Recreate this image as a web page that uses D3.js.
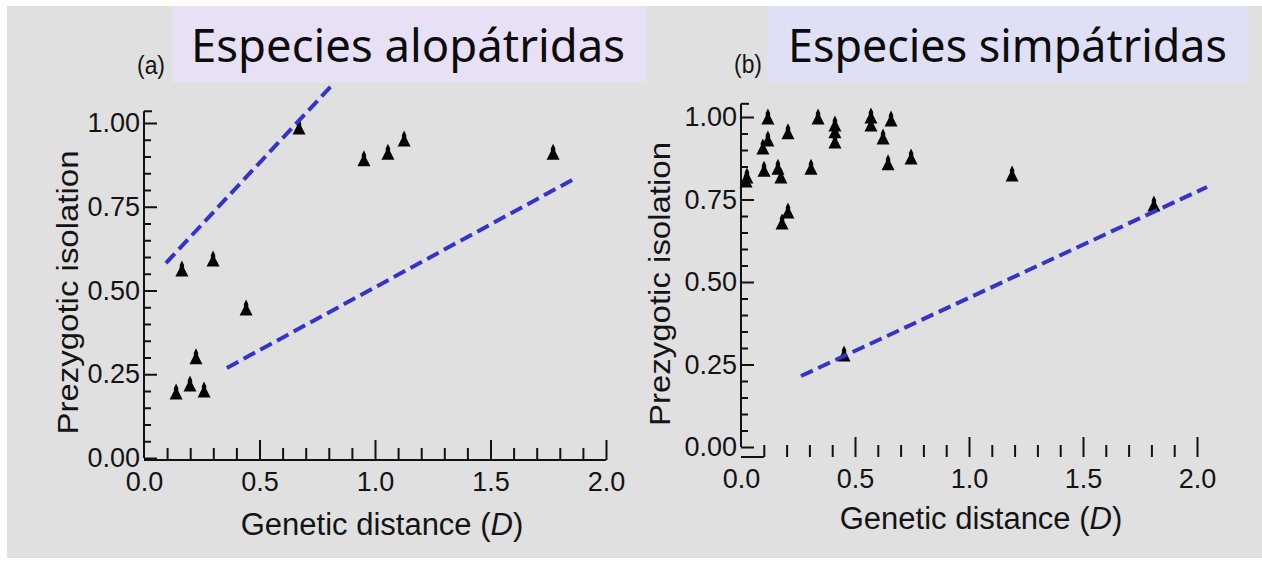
<!DOCTYPE html>
<html>
<head>
<meta charset="utf-8">
<script src="https://cdn.jsdelivr.net/npm/d3@7/dist/d3.min.js"></script>
<style>
  html, body { margin: 0; padding: 0; background: #ffffff; }
  svg { display: block; }
</style>
</head>
<body>
<svg id="chart" width="1262" height="561"></svg>
<script>
// ---------------- data ----------------
const panelTitles = ["Especies alopátridas", "Especies simpátridas"];
const panelLetters = ["(a)", "(b)"];
const xTickValues = [0, 0.5, 1.0, 1.5, 2.0];
const xTickLabels = ["0.0", "0.5", "1.0", "1.5", "2.0"];
const yTickValues = [0, 0.25, 0.5, 0.75, 1.0];
const yTickLabels = ["0.00", "0.25", "0.50", "0.75", "1.00"];
const xLabel = "Genetic distance (";
const xLabelItalic = "D";
const yLabel = "Prezygotic isolation";

// (a) allopatric species
const alloD   = [0.139, 0.199, 0.260, 0.225, 0.164, 0.299, 0.442, 0.671, 0.952, 1.056, 1.126, 1.771];
const alloIso = [0.194, 0.218, 0.200, 0.299, 0.561, 0.591, 0.445, 0.985, 0.890, 0.910, 0.949, 0.910];

// (b) sympatric species
const simD   = [0.022, 0.026, 0.096, 0.101, 0.118, 0.118, 0.162, 0.175, 0.180, 0.206, 0.206, 0.307,
                0.338, 0.412, 0.412, 0.412, 0.452, 0.570, 0.570, 0.623, 0.645, 0.658, 0.746, 1.189, 1.811];
const simIso = [0.806, 0.818, 0.906, 0.839, 0.997, 0.930, 0.845, 0.818, 0.679, 0.952, 0.712, 0.845,
                0.997, 0.976, 0.955, 0.924, 0.279, 1.000, 0.976, 0.936, 0.858, 0.991, 0.876, 0.824, 0.733];

// dashed annotation lines (data coordinates: [x1, y1, x2, y2])
const alloLines = [[0.095, 0.582, 0.814, 1.113], [0.359, 0.269, 1.870, 0.836]];
const simLines  = [[0.263, 0.215, 2.044, 0.788]];

// ---------------- drawing ----------------
const svg = d3.select("#chart");
const TXT = "#141414";
const narrow = "'Liberation Sans Narrow', 'Liberation Sans', Arial, sans-serif";

// background
svg.append("rect").attr("x", 7).attr("y", 6).attr("width", 1255).attr("height", 552).attr("fill", "#e0e0e0");

const panels = [
  { title: panelTitles[0], letter: panelLetters[0], xs: alloD, ys: alloIso, lines: alloLines,
    xRange: [144, 606], yRange: [458, 123], xAxisY: 460, yTop: 1.035, xDomainLine: true,
    box: [172, 6, 474, 77], boxFill: "#e8e0f5", titleX: 191, titleLen: 434,
    letterX: 151, letterY: 74, yLabX: 78, xLabX: 382, xLabY: 535 },
  { title: panelTitles[1], letter: panelLetters[1], xs: simD, ys: simIso, lines: simLines,
    xRange: [741, 1197], yRange: [447, 117], xAxisY: 457, yTop: 1.04, xDomainLine: false,
    box: [767, 6, 482, 77], boxFill: "#dfdff6", titleX: 788, titleLen: 439,
    letterX: 748, letterY: 73, yLabX: 670, xLabX: 981, xLabY: 529 }
];

const tri = "M0,-9.5 L2.2,-5 L2.2,-2 L6.5,6.5 L-6.5,6.5 L-2.2,-2 L-2.2,-5 Z";

panels.forEach(p => {
  const x = d3.scaleLinear().domain([0, 2]).range(p.xRange);
  const y = d3.scaleLinear().domain([0, 1]).range(p.yRange);
  const g = svg.append("g");

  // title box
  g.append("rect").attr("x", p.box[0]).attr("y", p.box[1]).attr("width", p.box[2]).attr("height", p.box[3])
    .attr("fill", p.boxFill);
  g.append("text").attr("x", p.titleX).attr("y", 62)
    .attr("font-family", "'Noto Sans', 'DejaVu Sans', sans-serif").attr("font-size", 46)
    .attr("fill", "#0c0c0c")
    .attr("textLength", p.titleLen).attr("lengthAdjust", "spacingAndGlyphs")
    .text(p.title);

  // panel letter
  g.append("text").attr("x", p.letterX).attr("y", p.letterY).attr("text-anchor", "middle")
    .attr("font-family", narrow).attr("font-size", 25).attr("fill", TXT)
    .attr("textLength", 28).attr("lengthAdjust", "spacingAndGlyphs").text(p.letter);

  // y axis: line
  g.append("line").attr("x1", x(0)).attr("x2", x(0)).attr("y1", y(0)).attr("y2", y(p.yTop))
    .attr("stroke", "#111").attr("stroke-width", 2);
  g.append("line").attr("x1", x(0)).attr("x2", x(0) + 8).attr("y1", y(p.yTop)).attr("y2", y(p.yTop))
    .attr("stroke", "#111").attr("stroke-width", 2);

  // y minor ticks
  const yMinor = d3.range(0, 1.0001, 0.05).filter(v => Math.abs(v * 4 - Math.round(v * 4)) > 1e-6);
  const yMinorAxis = d3.axisLeft(y).tickValues(yMinor).tickSize(-7).tickFormat("");
  const gym = g.append("g").attr("transform", `translate(${x(0)},0)`).call(yMinorAxis);
  gym.select(".domain").remove();
  gym.selectAll("line").attr("stroke", "#111").attr("stroke-width", 2);

  // y major ticks + labels
  const yAxis = d3.axisLeft(y).tickValues(yTickValues).tickSize(-13).tickPadding(4)
    .tickFormat((d, i) => yTickLabels[i]);
  const gy = g.append("g").attr("transform", `translate(${x(0)},0)`).call(yAxis);
  gy.select(".domain").remove();
  gy.selectAll("line").attr("stroke", "#111").attr("stroke-width", 2);
  gy.selectAll("text").attr("font-family", narrow).attr("font-size", 27).attr("fill", TXT);

  // x minor ticks
  const xMinor = d3.range(0, 2.0001, 0.1).filter(v => Math.abs(v * 2 - Math.round(v * 2)) > 1e-6);
  const xMinorAxis = d3.axisBottom(x).tickValues(xMinor).tickSize(-12).tickFormat("");
  const gxm = g.append("g").attr("transform", `translate(0,${p.xAxisY})`).call(xMinorAxis);
  gxm.select(".domain").remove();
  gxm.selectAll("line").attr("stroke", "#111").attr("stroke-width", 2);

  // x major ticks + labels
  const xAxis = d3.axisBottom(x).tickValues(xTickValues).tickSize(-20).tickPadding(12)
    .tickFormat((d, i) => xTickLabels[i]);
  const gx = g.append("g").attr("transform", `translate(0,${p.xAxisY})`).call(xAxis);
  gx.select(".domain").remove();
  gx.selectAll("line").attr("stroke", "#111").attr("stroke-width", 2)
    .filter(d => d === 0).remove();
  gx.selectAll("text").attr("font-family", narrow).attr("font-size", 27).attr("fill", TXT);
  if (p.xDomainLine) {
    g.append("line").attr("x1", x(0)).attr("x2", x(2)).attr("y1", p.xAxisY).attr("y2", p.xAxisY)
      .attr("stroke", "#111").attr("stroke-width", 2);
  } else {
    g.append("line").attr("x1", x(0)).attr("x2", x(0.1)).attr("y1", p.xAxisY).attr("y2", p.xAxisY)
      .attr("stroke", "#111").attr("stroke-width", 2);
  }

  // axis titles
  const xt = g.append("text").attr("x", p.xLabX).attr("y", p.xLabY).attr("text-anchor", "middle")
    .attr("font-family", narrow).attr("font-size", 31).attr("fill", TXT);
  xt.append("tspan").text(xLabel);
  xt.append("tspan").attr("font-style", "italic").text(xLabelItalic);
  xt.append("tspan").text(")");

  g.append("text").attr("transform", `translate(${p.yLabX},${(y(0) + y(1)) / 2 + 2}) rotate(-90)`)
    .attr("text-anchor", "middle").attr("font-family", "'Liberation Sans', Arial, sans-serif")
    .attr("font-size", 29).attr("fill", TXT)
    .attr("textLength", 284).attr("lengthAdjust", "spacingAndGlyphs")
    .text(yLabel);

  // points
  const pts = p.xs.map((d, i) => [d, p.ys[i]]);
  g.selectAll("path.pt").data(pts).enter().append("path").attr("class", "pt")
    .attr("d", tri)
    .attr("transform", d => `translate(${x(d[0])},${y(d[1])})`)
    .attr("fill", "#050505");

  // dashed lines
  g.selectAll("line.dash").data(p.lines).enter().append("line").attr("class", "dash")
    .attr("x1", d => x(d[0])).attr("y1", d => y(d[1]))
    .attr("x2", d => x(d[2])).attr("y2", d => y(d[3]))
    .attr("stroke", "#3434cc").attr("stroke-width", 4).attr("stroke-dasharray", "13,6");
});
</script>
</body>
</html>
